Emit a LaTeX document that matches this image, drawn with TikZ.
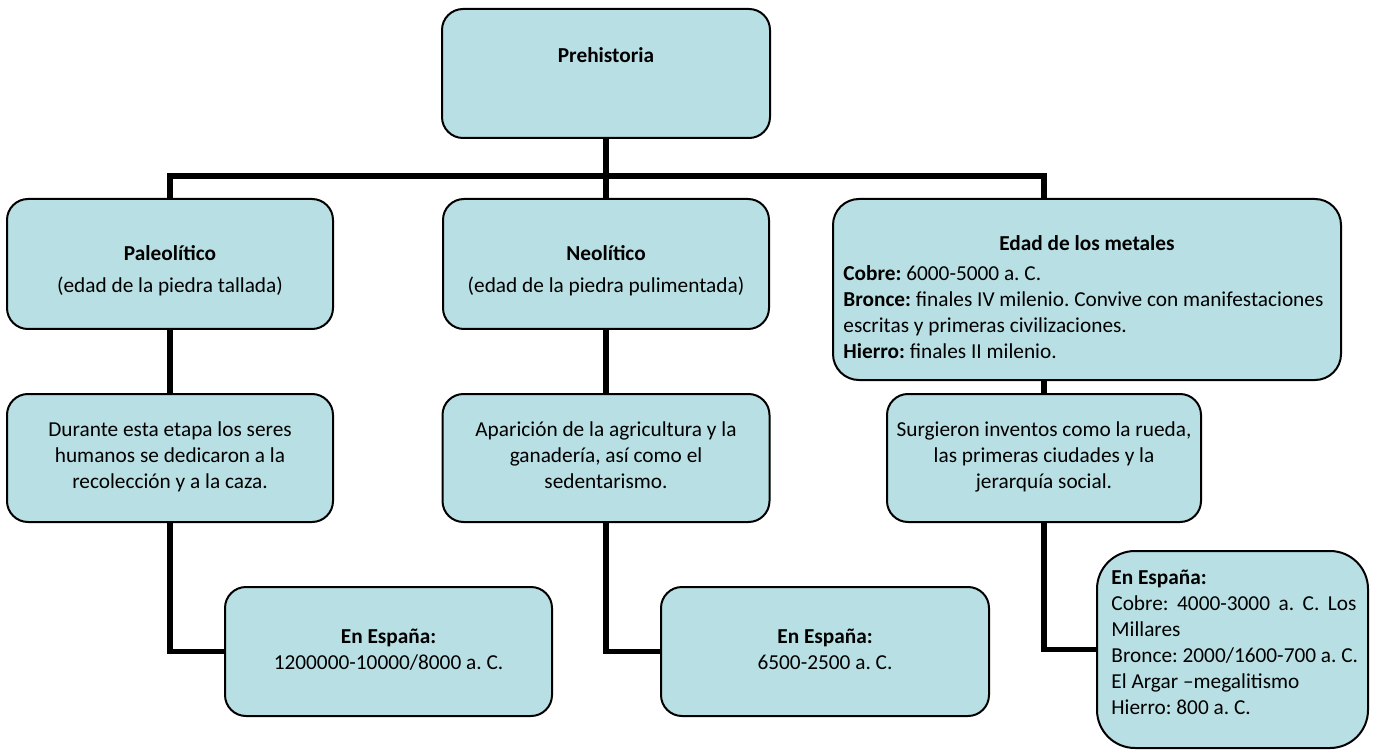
\documentclass[tikz,border=0pt]{standalone}
\usepackage{fontspec}
\setmainfont{Carlito}
\frenchspacing
\usetikzlibrary{backgrounds}
\definecolor{boxfill}{RGB}{184,223,227}
\newcommand{\diagfont}{\fontsize{10.65}{13}\selectfont}
\tikzset{
  box/.style={draw=black, line width=1pt, fill=boxfill, rounded corners=10.5pt, inner sep=0pt},
  txt/.style={inner sep=0pt, align=center, font=\diagfont, execute at begin node=\strut, execute at end node=\strut},
  ltxt/.style={txt, align=left},
  conn/.style={line width=2.6pt, line join=miter}
}
\begin{document}
\begin{tikzpicture}[x=0.5pt, y=-0.5pt]
\useasboundingbox (0,0) rectangle (1374,753);
% boxes
\node[box, minimum width=164pt, minimum height=64.5pt] (pre) at (606,73.5) {};
\node[box, minimum width=163pt, minimum height=65pt] (pal) at (170,264) {};
\node[box, minimum width=163pt, minimum height=65pt] (neo) at (606,264) {};
\node[box, minimum width=254pt, minimum height=90.5pt, rounded corners=13pt] (met) at (1087,289.5) {};
\node[box, minimum width=163pt, minimum height=64pt] (dur) at (170,458) {};
\node[box, minimum width=163.5pt, minimum height=64pt] (apa) at (606,458) {};
\node[box, minimum width=157pt, minimum height=64pt] (sur) at (1044,458) {};
\node[box, minimum width=163.5pt, minimum height=64.5pt] (es1) at (388.5,651.5) {};
\node[box, minimum width=164pt, minimum height=64.5pt] (es2) at (825,651.5) {};
\node[box, minimum width=135.5pt, minimum height=98.5pt, rounded corners=19pt] (es3) at (1232.5,649.5) {};
% texts
\node[txt] (preT) at (606,57) {\textbf{Prehistoria}};
\node[txt] (palT) at (170,273) {\textbf{Paleolítico}\\[3pt](edad de la piedra tallada)};
\node[txt] (neoT) at (606,273) {\textbf{Neolítico}\\[3pt](edad de la piedra pulimentada)};
\node[txt] (metT) at (1087,245) {\textbf{Edad de los metales}};
\node[ltxt, anchor=west] (metB) at (843,315.5) {\textbf{Cobre:} 6000-5000 a. C.\\\textbf{Bronce:} finales IV milenio. Convive con manifestaciones\\escritas y primeras civilizaciones.\\\textbf{Hierro:} finales II milenio.};
\node[txt] (durT) at (170,459) {Durante esta etapa los seres\\humanos se dedicaron a la\\recolección y a la caza.};
\node[txt] (apaT) at (606,459) {Aparición de la agricultura y la\\ganadería, así como el\\sedentarismo.};
\node[txt] (surT) at (1044,459) {Surgieron inventos como la rueda,\\las primeras ciudades y la\\jerarquía social.};
\node[txt] (es1T) at (388.5,653) {\textbf{En España:}\\1200000-10000/8000 a. C.};
\node[txt] (es2T) at (825,653) {\textbf{En España:}\\6500-2500 a. C.};
\node[ltxt, anchor=west] (es3T) at (1111,646.5) {\textbf{En España:}\\\makebox[122.5pt][s]{Cobre: 4000-3000 a. C. Los}\\Millares\\Bronce: 2000/1600-700 a. C.\\El Argar –megalitismo\\Hierro: 800 a. C.};
% connectors
\begin{scope}[on background layer]
\coordinate (bar) at (606,176);
\draw[conn] (pre.south) -- (bar);
\draw[conn] (pal.north) |- (sur.north |- bar) -- (sur.north |- met.north);
\draw[conn] (bar) -- (neo.north);
\draw[conn] (pal.south) -- (dur.north);
\draw[conn] (neo.south) -- (apa.north);
\draw[conn] (sur.north |- met.south) -- (sur.north);
\draw[conn] (dur.south) |- (es1.west);
\draw[conn] (apa.south) |- (es2.west);
\draw[conn] (sur.south) |- (es3.west);
\end{scope}
\end{tikzpicture}
\end{document}
